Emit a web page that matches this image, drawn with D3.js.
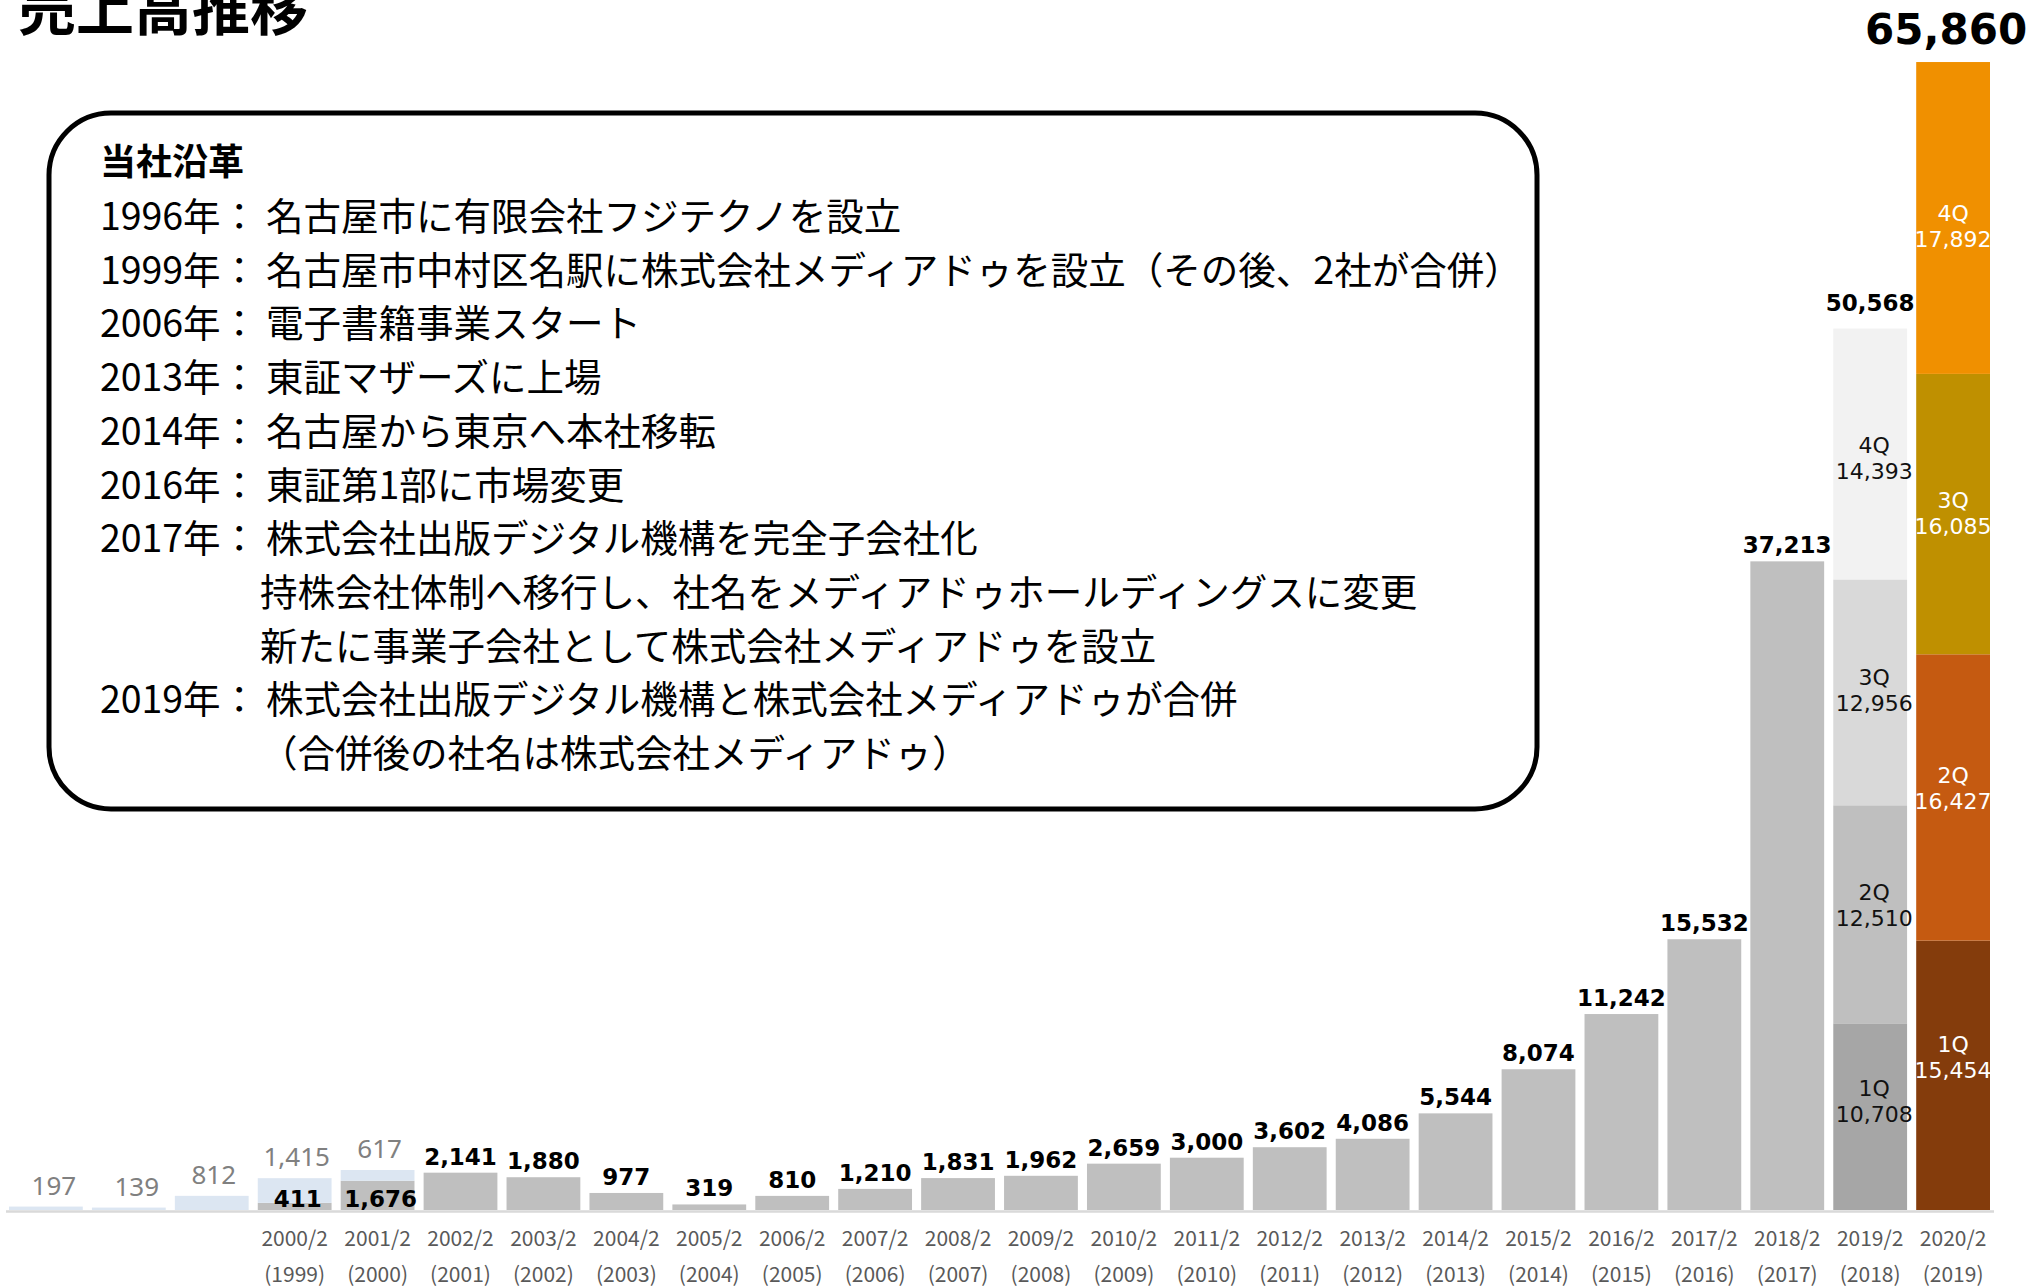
<!DOCTYPE html>
<html>
<head>
<meta charset="utf-8">
<script src="https://cdn.jsdelivr.net/npm/d3@7"></script>
<style>
  body { margin: 0; background: #fff; }
  svg text { font-family: "Noto Sans CJK JP", sans-serif; }
</style>
</head>
<body>
<svg id="chart"></svg>
<script>
// fiscal period labels (first three bars carry no label)
const fiscalLabels = ["", "", "", "2000/2", "2001/2", "2002/2", "2003/2", "2004/2", "2005/2",
  "2006/2", "2007/2", "2008/2", "2009/2", "2010/2", "2011/2", "2012/2", "2013/2", "2014/2",
  "2015/2", "2016/2", "2017/2", "2018/2", "2019/2", "2020/2"];
const yearLabels = ["", "", "", "(1999)", "(2000)", "(2001)", "(2002)", "(2003)", "(2004)",
  "(2005)", "(2006)", "(2007)", "(2008)", "(2009)", "(2010)", "(2011)", "(2012)", "(2013)",
  "(2014)", "(2015)", "(2016)", "(2017)", "(2018)", "(2019)"];

// sales of the former Fuji Techno (light blue) and Media Do (gray)
const fujiTechno = [197, 139, 812, 1415, 617, 0, 0, 0, 0, 0, 0, 0, 0, 0, 0, 0, 0, 0, 0, 0, 0, 0, 0, 0];
const mediaDo = [0, 0, 0, 411, 1676, 2141, 1880, 977, 319, 810, 1210, 1831, 1962, 2659, 3000,
  3602, 4086, 5544, 8074, 11242, 15532, 37213, 0, 0];

// quarterly breakdown of the last two years
const quarterKeys = ["1Q", "2Q", "3Q", "4Q"];
const quarterPeriods = [22, 23];
const quarters2019 = [10708, 12510, 12956, 14393];
const quarters2020 = [15454, 16427, 16085, 17892];
const quarterTotals = [50568, 65860];

const historyTitle = "当社沿革";
const historyHeads = ["1996年：", "1999年：", "2006年：", "2013年：", "2014年：", "2016年：",
  "2017年：", "", "", "2019年：", ""];
const historyBodies = [
  "名古屋市に有限会社フジテクノを設立",
  "名古屋市中村区名駅に株式会社メディアドゥを設立（その後、2社が合併）",
  "電子書籍事業スタート",
  "東証マザーズに上場",
  "名古屋から東京へ本社移転",
  "東証第1部に市場変更",
  "株式会社出版デジタル機構を完全子会社化",
  "持株会社体制へ移行し、社名をメディアドゥホールディングスに変更",
  "新たに事業子会社として株式会社メディアドゥを設立",
  "株式会社出版デジタル機構と株式会社メディアドゥが合併",
  "（合併後の社名は株式会社メディアドゥ）"
];

const width = 2030, height = 1287;
const colors = {
  gray: "#bfbfbf",
  blue: "#dce6f2",
  q2019: ["#a6a6a6", "#bfbfbf", "#d9d9d9", "#f2f2f2"],
  q2020: ["#843c0c", "#c55a11", "#bf9000", "#f09000"]
};

const svg = d3.select("#chart")
    .attr("width", width)
    .attr("height", height);

const x = d3.scaleBand()
    .domain(d3.range(fiscalLabels.length))
    .range([9, 1990])
    .paddingInner(0.11)
    .paddingOuter(0);

const y = d3.scaleLinear()
    .domain([0, 65860])
    .range([1210, 62]);

const fmt = d3.format(",");

// title
svg.append("text")
    .attr("x", 18)
    .attr("y", 30)
    .style("font-size", "58px")
    .style("font-weight", 700)
    .text("売上高推移");

// baseline
svg.append("line")
    .attr("x1", 6).attr("x2", 1994)
    .attr("y1", 1211.5).attr("y2", 1211.5)
    .attr("stroke", "#d9d9d9")
    .attr("stroke-width", 2.5);

const bars = svg.append("g");

// media do (gray) bars
bars.selectAll(".md")
  .data(d3.range(mediaDo.length).filter(i => mediaDo[i] > 0))
  .join("rect")
    .attr("class", "md")
    .attr("x", i => x(i))
    .attr("width", x.bandwidth())
    .attr("y", i => y(mediaDo[i]))
    .attr("height", i => y(0) - y(mediaDo[i]))
    .attr("fill", colors.gray);

// fuji techno (blue) stacked on top
bars.selectAll(".ft")
  .data(d3.range(fujiTechno.length).filter(i => fujiTechno[i] > 0))
  .join("rect")
    .attr("class", "ft")
    .attr("x", i => x(i))
    .attr("width", x.bandwidth())
    .attr("y", i => y(mediaDo[i] + fujiTechno[i]))
    .attr("height", i => y(mediaDo[i]) - y(mediaDo[i] + fujiTechno[i]))
    .attr("fill", colors.blue);

// quarterly stacks
const quarterTable = quarterPeriods.map((p, j) => {
  const row = {period: p};
  const vals = j === 0 ? quarters2019 : quarters2020;
  quarterKeys.forEach((k, n) => row[k] = vals[n]);
  return row;
});
const stacked = d3.stack().keys(quarterKeys)(quarterTable);

stacked.forEach((layer, n) => {
  layer.forEach((seg, j) => {
    const p = quarterPeriods[j];
    const cx = x(p) + x.bandwidth() / 2 + (j === 0 ? 4 : 0);
    const segMid = (y(seg[0]) + y(seg[1])) / 2;
    // labels lean slightly towards the middle of the whole bar
    const mid = segMid + (y(quarterTotals[j] / 2) - segMid) * 0.03;
    bars.append("rect")
        .attr("x", x(p))
        .attr("width", x.bandwidth())
        .attr("y", y(seg[1]))
        .attr("height", y(seg[0]) - y(seg[1]))
        .attr("fill", j === 0 ? colors.q2019[n] : colors.q2020[n]);
    const t = bars.append("text")
        .attr("text-anchor", "middle")
        .style("font-family", "'DejaVu Sans', sans-serif")
        .style("font-size", "22px")
        .attr("fill", j === 0 ? "#111" : "#fff");
    t.append("tspan").attr("x", cx).attr("y", mid - 10).text(layer.key);
    t.append("tspan").attr("x", cx).attr("y", mid + 16).text(fmt(seg.data[layer.key]));
  });
});

// gray labels for fuji techno
svg.selectAll(".ftLabel")
  .data(d3.range(fujiTechno.length).filter(i => fujiTechno[i] > 0))
  .join("text")
    .attr("class", "ftLabel")
    .attr("x", i => x(i) + x.bandwidth() / 2 + (i < 2 ? 8 : 2))
    .attr("y", i => y(mediaDo[i] + fujiTechno[i]) - 12)
    .attr("text-anchor", "middle")
    .style("font-family", "'Noto Sans', sans-serif")
    .style("font-size", "26px")
    .attr("fill", "#808080")
    .text(i => fmt(fujiTechno[i]));

// bold labels for media do
svg.selectAll(".mdLabel")
  .data(d3.range(mediaDo.length).filter(i => mediaDo[i] > 0))
  .join("text")
    .attr("class", "mdLabel")
    .attr("x", i => x(i) + x.bandwidth() / 2 + (fujiTechno[i] > 0 ? 3 : 0))
    .attr("y", i => fujiTechno[i] > 0 ? y(0) - 3 : y(mediaDo[i]) - 8)
    .attr("text-anchor", "middle")
    .style("font-family", "'DejaVu Sans', sans-serif")
    .style("font-weight", 700)
    .style("font-size", "23px")
    .attr("fill", "#000")
    .text(i => fmt(mediaDo[i]));

// totals for the quarterly bars
svg.selectAll(".totLabel")
  .data(quarterPeriods)
  .join("text")
    .attr("class", "totLabel")
    .attr("x", (p, j) => x(p) + x.bandwidth() / 2 + (j === 1 ? -7 : 0))
    .attr("y", (p, j) => y(quarterTotals[j]) - 18)
    .attr("text-anchor", "middle")
    .style("font-family", "'DejaVu Sans', sans-serif")
    .style("font-weight", 700)
    .style("font-size", (p, j) => j === 1 ? "42px" : "23px")
    .attr("fill", "#000")
    .text((p, j) => fmt(quarterTotals[j]));

// x axis labels
const axisG = svg.append("g")
    .style("font-family", "'Noto Sans', sans-serif")
    .style("font-size", "21px")
    .attr("fill", "#595959")
    .attr("text-anchor", "middle");
axisG.selectAll(".fl")
  .data(d3.range(fiscalLabels.length))
  .join("text")
    .attr("x", i => x(i) + x.bandwidth() / 2)
    .attr("y", 1246)
    .text(i => fiscalLabels[i]);
axisG.selectAll(".yl")
  .data(d3.range(yearLabels.length))
  .join("text")
    .attr("class", "yl")
    .attr("x", i => x(i) + x.bandwidth() / 2)
    .attr("y", 1282)
    .text(i => yearLabels[i]);

// history box
svg.append("rect")
    .attr("x", 49).attr("y", 113)
    .attr("width", 1488).attr("height", 696)
    .attr("rx", 62).attr("ry", 62)
    .attr("fill", "#fff")
    .attr("stroke", "#000")
    .attr("stroke-width", 5);

svg.append("text")
    .attr("x", 100)
    .attr("y", 175)
    .style("font-size", "36px")
    .style("font-weight", 700)
    .text(historyTitle);

const histG = svg.append("g")
    .style("font-size", "37.5px")
    .attr("fill", "#000");
histG.selectAll(".head")
  .data(historyHeads)
  .join("text")
    .attr("class", "head")
    .attr("x", 100)
    .attr("y", (d, i) => 230 + i * 53.7)
    .attr("textLength", d => d ? 158 : null)
    .text(d => d);
histG.selectAll(".body")
  .data(historyBodies)
  .join("text")
    .attr("class", "body")
    .attr("x", (d, i) => historyHeads[i] ? 266 : 260)
    .attr("y", (d, i) => 230 + i * 53.7)
    .text(d => d);
</script>
</body>
</html>
